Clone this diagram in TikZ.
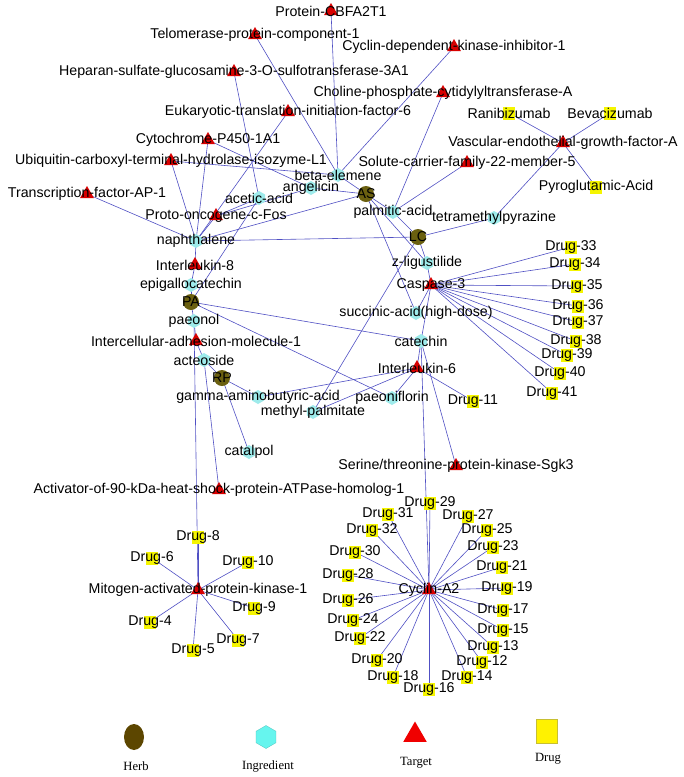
\documentclass[tikz,border=0pt]{standalone}
\usepackage{fontspec}
\setmainfont{Liberation Sans}
\newfontfamily\legendfont{Liberation Serif}
\usetikzlibrary{shapes.geometric, backgrounds}
\pgfdeclarelayer{edgelayer}
\pgfsetlayers{background,edgelayer,main}
\definecolor{nwherb}{HTML}{6B6010}
\definecolor{nwingr}{HTML}{9EEBEB}
\definecolor{nwtarget}{HTML}{D80000}
\definecolor{nwdrug}{HTML}{F5F500}
\definecolor{nwedge}{HTML}{5050C4}
\definecolor{lgherb}{HTML}{5C4600}
\definecolor{lgingr}{HTML}{66F5EE}
\definecolor{lgtarget}{HTML}{F00000}

\begin{document}
\begin{tikzpicture}[
    x=1pt, y=-1pt,
    herb/.style={circle, fill=nwherb, minimum size=16pt, inner sep=0pt},
    ingred/.style={regular polygon, regular polygon sides=6, regular polygon rotate=30,
                   fill=nwingr, minimum size=14pt, inner sep=0pt},
    target/.style={regular polygon, regular polygon sides=3, fill=nwtarget,
                   minimum size=16pt, inner sep=0pt},
    drug/.style={rectangle, fill=nwdrug, minimum width=12pt, minimum height=13pt, inner sep=0pt},
    edge/.style={draw=nwedge, line width=0.6pt},
    lbl/.style={font=\fontsize{14.2}{16}\selectfont, inner sep=0pt, text=black},
    legendtext/.style={font=\legendfont\fontsize{12.6}{14}\selectfont, inner sep=0pt}
  ]
    \begin{pgfonlayer}{background}
      \fill[white] (0,0) rectangle (684,777);
    \end{pgfonlayer}
    \useasboundingbox (0,0) rectangle (684,777);

    % targets
    \node[target, label={[lbl]center:Protein-CBFA2T1}] (cbfa) at (331,11) {};
    \node[target, label={[lbl]center:Telomerase-protein-component-1}] (telo) at (255,35) {};
    \node[target, label={[lbl]center:Cyclin-dependent-kinase-inhibitor-1}] (cdki) at (454,47) {};
    \node[target, label={[lbl]center:Heparan-sulfate-glucosamine-3-O-sulfotransferase-3A1}] (hs3st) at (234,72) {};
    \node[target, label={[lbl]center:Choline-phosphate-cytidylyltransferase-A}] (pcyt) at (443,93) {};
    \node[target, label={[lbl]center:Eukaryotic-translation-initiation-factor-6}] (eif) at (288,112) {};
    \node[target, label={[lbl]center:Cytochrome-P450-1A1}] (cyp) at (208,140) {};
    \node[target, label={[lbl]center:Ubiquitin-carboxyl-terminal-hydrolase-isozyme-L1}] (uchl) at (171,161) {};
    \node[target, label={[lbl]center:Solute-carrier-family-22-member-5}] (slc) at (467,163) {};
    \node[target, label={[lbl]center:Vascular-endothelial-growth-factor-A}] (vegfa) at (563,143) {};
    \node[target, label={[lbl]center:Transcription-factor-AP-1}] (ap1) at (87,194) {};
    \node[target, label={[lbl]center:Proto-oncogene-c-Fos}] (fos) at (216,216) {};
    \node[target, label={[lbl]center:Interleukin-8}] (il8) at (195,265) {};
    \node[target, label={[lbl]center:Intercellular-adhesion-molecule-1}] (icam) at (196,341) {};
    \node[target, label={[lbl]center:Caspase-3}] (casp) at (431,285) {};
    \node[target, label={[lbl]center:Interleukin-6}] (il6) at (417,368) {};
    \node[target, label={[lbl]center:Activator-of-90-kDa-heat-shock-protein-ATPase-homolog-1}] (aha) at (219,490) {};
    \node[target, label={[lbl]center:Serine/threonine-protein-kinase-Sgk3}] (sgk) at (456,466) {};
    \node[target, label={[lbl]center:Mitogen-activated-protein-kinase-1}] (mapk) at (198,590) {};
    \node[target, label={[lbl]center:Cyclin-A2}] (ccna) at (429,590) {};

    % ingredients
    \node[ingred, label={[lbl]center:beta-elemene}] (belem) at (338,175) {};
    \node[ingred, label={[lbl]center:angelicin}] (angel) at (311,188) {};
    \node[ingred, label={[lbl]center:acetic-acid}] (acet) at (259,198) {};
    \node[ingred, label={[lbl]center:palmitic-acid}] (palm) at (393,212) {};
    \node[ingred, label={[lbl]center:tetramethylpyrazine}] (tmp) at (494,218) {};
    \node[ingred, label={[lbl]center:naphthalene}] (naph) at (196,241) {};
    \node[ingred, label={[lbl]center:z-ligustilide}] (zlig) at (427,263) {};
    \node[ingred, label={[lbl]center:epigallocatechin}] (egc) at (191,285) {};
    \node[ingred, label={[lbl]center:paeonol}] (paeonol) at (194,321) {};
    \node[ingred, label={[lbl]center:succinic-acid(high-dose)}] (succ) at (416,313) {};
    \node[ingred, label={[lbl]center:catechin}] (catech) at (421,341) {};
    \node[ingred, label={[lbl]center:acteoside}] (acteo) at (204,360) {};
    \node[ingred, label={[lbl]center:gamma-aminobutyric-acid}] (gaba) at (258,397) {};
    \node[ingred, label={[lbl]center:methyl-palmitate}] (mpalm) at (313,412) {};
    \node[ingred, label={[lbl]center:paeoniflorin}] (paeoni) at (392,398) {};
    \node[ingred, label={[lbl]center:catalpol}] (catal) at (249,452) {};

    % herbs
    \node[herb, label={[lbl]center:AS}] (AS) at (366,194) {};
    \node[herb, label={[lbl]center:LC}] (LC) at (418,237) {};
    \node[herb, label={[lbl]center:PA}] (PA) at (191,302) {};
    \node[herb, label={[lbl]center:RP}] (RP) at (222,378) {};

    % drugs
    \node[drug, label={[lbl]center:Ranibizumab}] (ranib) at (509,113) {};
    \node[drug, label={[lbl]center:Bevacizumab}] (bevac) at (610,113) {};
    \node[drug, label={[lbl]center:Pyroglutamic-Acid}] (pyro) at (596,187) {};
    \foreach \n/\x/\y in {4/150/622, 5/193/650, 6/152/558, 7/238/640, 8/198/537,
                          9/254/608, 10/248/562, 11/473/401,
                          12/482/662, 13/493/647, 14/467/677, 15/503/630, 16/429/689,
                          17/503/610, 18/393/677, 19/507/588, 20/377/660, 21/502/567,
                          22/360/638, 23/493/547, 24/353/620, 25/487/530, 26/348/600,
                          27/468/516, 28/348/575, 29/430/503, 30/355/552, 31/388/514,
                          32/372/530,
                          33/571/247, 34/575/264, 35/577/286, 36/578/306, 37/578/322,
                          38/576/341, 39/567/355, 40/560/373, 41/552/393}
      \node[drug, label={[lbl]center:Drug-\n}] (d\n) at (\x,\y) {};

    % connectors
    \begin{pgfonlayer}{edgelayer}
      \foreach \a/\b in {cbfa/belem, telo/belem, cdki/belem, hs3st/acet, pcyt/palm,
                         eif/naph, cyp/naph, cyp/angel, uchl/naph, uchl/belem,
                         slc/palm, vegfa/tmp, ap1/naph, fos/naph, fos/acet, fos/angel,
                         il8/naph, il8/egc, icam/paeonol, icam/acteo, paeonol/mapk,
                         acteo/aha, gaba/il6, mpalm/il6, paeoni/il6, catech/il6,
                         zlig/casp, succ/casp, catech/casp, catech/ccna, catech/sgk,
                         AS/belem, AS/angel, AS/palm, AS/naph, AS/zlig, AS/succ,
                         LC/naph, LC/tmp, LC/zlig, LC/mpalm, LC/palm,
                         PA/egc, PA/paeonol, PA/catech, PA/paeoni, PA/acet,
                         RP/acteo, RP/gaba, RP/catal,
                         vegfa/ranib, vegfa/bevac, vegfa/pyro, il6/d11}
        \draw[edge] (\a.center) -- (\b.center);
      \foreach \n in {4,...,10}
        \draw[edge] (mapk.center) -- (d\n.center);
      \foreach \n in {12,...,32}
        \draw[edge] (ccna.center) -- (d\n.center);
      \foreach \n in {33,...,41}
        \draw[edge] (casp.center) -- (d\n.center);
    \end{pgfonlayer}

    % legend
    \node[ellipse, fill=lgherb, minimum width=20pt, minimum height=26pt, inner sep=0pt] (lgh) at (134,737) {};
    \node[regular polygon, regular polygon sides=6, regular polygon rotate=30, fill=lgingr,
          draw=lgingr!80!black, line width=0.3pt, minimum size=23pt, inner sep=0pt] (lgi) at (266,737) {};
    \node[regular polygon, regular polygon sides=3, fill=lgtarget, minimum size=27pt, inner sep=0pt] (lgt) at (415,735) {};
    \node[rectangle, fill=yellow, draw=yellow!75!black, line width=0.3pt, minimum width=21pt,
          minimum height=24pt, inner sep=0pt] (lgd) at (547,731) {};
    \node[legendtext] (lghtxt) at (136,766) {Herb};
    \node[legendtext] (lgitxt) at (268,766) {Ingredient};
    \node[legendtext] (lgttxt) at (416,763) {Target};
    \node[legendtext] (lgdtxt) at (548,759) {Drug};
  \end{tikzpicture}
\end{document}
